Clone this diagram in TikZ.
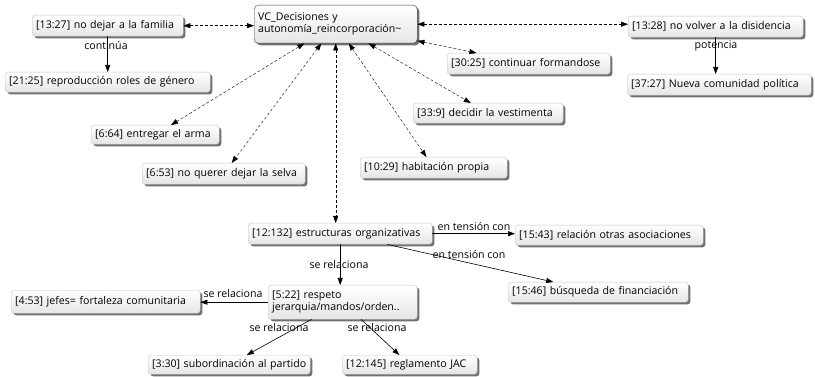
\documentclass[tikz,border=0pt]{standalone}
\usepackage{fontspec}
\setmainfont{Open Sans}
\usetikzlibrary{arrows.meta,shadows,calc}
\tikzset{
  bx/.style={draw=gray!45, rounded corners=3pt, top color=white, bottom color=gray!20,
    inner xsep=4pt, inner ysep=1pt, align=left, font=\fontsize{10.6}{12.2}\selectfont,
    drop shadow={shadow xshift=2.2pt, shadow yshift=-2.2pt, fill=black!65, opacity=0.85}},
  vcbox/.style={bx, draw=black!75, rounded corners=4pt},
  lbl/.style={font=\fontsize{10.6}{12}\selectfont, inner sep=0pt},
  tip/.tip={Triangle[length=7pt,width=5pt]},
  dl/.style={densely dashed, thin, tip-tip},
  sl/.style={semithick, -tip},
}
\newcommand{\mkbox}[7][bx]{%
  \pgfmathsetmacro{\mkbw}{#5-#3-8}\pgfmathsetmacro{\mkbh}{#6-#4}%
  \node[#1, text width=\mkbw pt, minimum height=\mkbh pt, anchor=north west] (#2) at (#3,#4) {#7};}
\begin{document}
\begin{tikzpicture}[x=1pt,y=-1pt]
\useasboundingbox[fill=white] (0,0) rectangle (815,377);
\mkbox[vcbox]{vc}{254}{5}{417}{43}{VC\_Decisiones y\\autonomía\_reincorporación\textasciitilde}
\mkbox{fam}{32}{15}{183}{36}{[13:27] no dejar a la familia}
\mkbox{rol}{5}{72}{210}{92}{[21:25] reproducción roles de género}
\mkbox{arma}{91}{125}{219}{144}{[6:64] entregar el arma}
\mkbox{selva}{142}{163}{305}{184}{[6:53] no querer dejar la selva}
\mkbox{form}{447}{53}{610}{74}{[30:25] continuar formandose}
\mkbox{vest}{413}{103}{563}{123}{[33:9] decidir la vestimenta}
\mkbox{hab}{360}{157}{507}{178}{[10:29] habitación propia}
\mkbox{dis}{628}{16}{803}{37}{[13:28] no volver a la disidencia}
\mkbox{com}{627}{74}{811}{95}{[37:27] Nueva comunidad política}
\mkbox{est}{248}{223}{432}{244}{[12:132] estructuras organizativas}
\mkbox{rel}{515}{225}{703}{245}{[15:43] relación otras asociaciones}
\mkbox{fin}{508}{282}{688}{302}{[15:46] búsqueda de financiación}
\mkbox{jef}{11}{290}{200}{313}{[4:53] jefes= fortaleza comunitaria}
\mkbox{resp}{268}{285}{417}{319}{[5:22] respeto\\jerarquia/mandos/orden..}
\mkbox{sub}{148}{355}{310}{374}{[3:30] subordinación al partido}
\mkbox{jac}{342}{355}{477}{374}{[12:145] reglamento JAC}

\draw[dl] (fam.east) -- (fam.east -| vc.west);
\draw[dl] (vc.east) -- (vc.east -| dis.west);
\draw[dl] (vc) -- (arma);
\draw[dl] (vc) -- (selva);
\draw[dl] (vc.south) -- (vc.south |- est.north);
\draw[dl] (vc) -- (hab);
\draw[dl] (vc) -- (vest);
\draw[dl] (vc) -- (form);

\draw[sl] (fam.south) -- (fam.south |- rol.north);
\draw[sl] (dis.south) -- (dis.south |- com.north);
\draw[sl] (est.east) -- (est.east -| rel.west);
\draw[sl] (est) -- (fin);
\draw[sl] (est.south) -- (est.south |- resp.north);
\draw[sl] (resp.west) -- (resp.west -| jef.east);
\draw[sl] (resp) -- (sub);
\draw[sl] (resp) -- (jac);

\node[lbl] (l1) at (106,45) {continúa};
\node[lbl] (l2) at (716,46) {potencia};
\node[lbl] (l3) at (474,226) {en tensión con};
\node[lbl] (l4) at (469,254) {en tensión con};
\node[lbl] (l5) at (339,265) {se relaciona};
\node[lbl] (l6) at (233,294) {se relaciona};
\node[lbl] (l7) at (279,328) {se relaciona};
\node[lbl] (l8) at (377,328) {se relaciona};
\end{tikzpicture}
\end{document}
